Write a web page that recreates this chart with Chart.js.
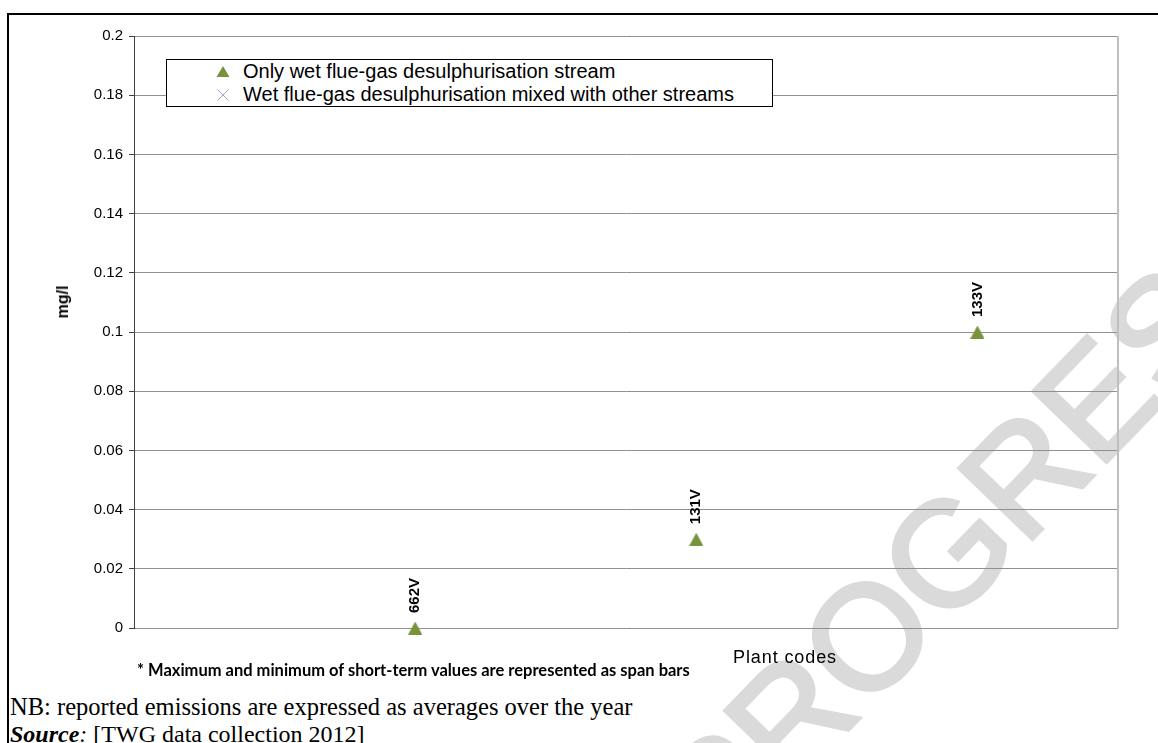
<!DOCTYPE html>
<html>
<head>
<meta charset="utf-8">
<script src="https://cdn.jsdelivr.net/npm/chart.js@4.4.1/dist/chart.umd.min.js"></script>
<style>
  html, body { margin: 0; padding: 0; background: #fff; }
  body { width: 1158px; height: 743px; position: relative; overflow: hidden; font-family: "Liberation Sans", Arial, sans-serif; }
  #frame-top { position: absolute; left: 7px; top: 13px; width: 1151px; height: 2px; background: #000; }
  #frame-left { position: absolute; left: 7px; top: 13px; width: 2px; height: 730px; background: #000; }
  #watermark { position: absolute; left: 976px; top: 524px; transform: translate(-50%, -50%) rotate(-46deg);
    white-space: nowrap; font: 148px "Liberation Sans", Arial, sans-serif; -webkit-text-stroke: 4px #dadada; line-height: 1; color: #dadada; z-index: 0; }
  #chart { position: absolute; left: 0; top: 0; z-index: 1; }
  .txt { position: absolute; z-index: 2; white-space: nowrap; color: #000; }
  #ytitle { left: 63px; top: 302px; transform: translate(-50%, -50%) rotate(-90deg); font: bold 16px "Liberation Sans", Arial, sans-serif; }
  #xtitle { left: 733px; top: 647px; font: 18px "Liberation Sans", Arial, sans-serif; letter-spacing: 0.9px; }
  #footnote { left: 137px; top: 660px; font: bold 16.5px Lato, "Open Sans", sans-serif; }
  #nb { left: 10px; top: 694px; font: 24.5px "Liberation Serif", "Times New Roman", serif; line-height: 26px; }
  #src { left: 10px; top: 721px; font: 24px "Liberation Serif", "Times New Roman", serif; line-height: 26px; }
  #legend { position: absolute; left: 166px; top: 59px; width: 605px; height: 46px; border: 1px solid #000; background: #fff; z-index: 2; }
  .lg-row { position: absolute; left: 0; height: 23px; display: flex; align-items: center; font: 20px "Liberation Sans", Arial, sans-serif; }
  .lg-row svg { margin-left: 49px; margin-right: 13px; }
</style>
</head>
<body>
<div id="frame-top"></div>
<div id="frame-left"></div>
<div id="watermark">PROGRESS</div>
<canvas id="chart" width="1158" height="690"></canvas>
<div id="legend"></div>
<div class="txt" id="ytitle">mg/l</div>
<div class="txt" id="xtitle">Plant codes</div>
<div class="txt" id="footnote">* Maximum and minimum of short-term values are represented as span bars</div>
<div class="txt" id="nb">NB: reported emissions are expressed as averages over the year</div>
<div class="txt" id="src"><b><i>Source</i></b><i>:</i> [TWG data collection 2012]</div>
<script>
// plant codes and their position along the category axis
const plantCodes = ['662V', '131V', '133V'];
const plantPos = [1, 2, 3];

// yearly averages, mg/l
const onlyWfgd = [0, 0.03, 0.1];
const mixedWfgd = []; // no plants reported in this group

const yTicks = [0, 0.02, 0.04, 0.06, 0.08, 0.1, 0.12, 0.14, 0.16, 0.18, 0.2];

const seriesNames = [
    'Only wet flue-gas desulphurisation stream',
    'Wet flue-gas desulphurisation mixed with other streams'
];

const green = '#77933c';
const lavender = '#a3a3cf';

// Excel style triangle, centred on its box rather than its centroid
const tri = document.createElement('canvas');
tri.width = 14;
tri.height = 13;
const tctx = tri.getContext('2d');
tctx.fillStyle = green;
tctx.beginPath();
tctx.moveTo(7, 0);
tctx.lineTo(14, 13);
tctx.lineTo(0, 13);
tctx.closePath();
tctx.fill();

// rotated plant code above each marker
const codeLabels = {
    id: 'codeLabels',
    afterDatasetsDraw(chart) {
        const ctx = chart.ctx;
        const meta = chart.getDatasetMeta(0);
        ctx.save();
        ctx.fillStyle = '#000';
        ctx.font = 'bold 15px "Liberation Sans", Arial, sans-serif';
        ctx.textAlign = 'left';
        ctx.textBaseline = 'middle';
        meta.data.forEach((pt, i) => {
            ctx.save();
            ctx.translate(pt.x, pt.y - 15);
            ctx.rotate(-Math.PI / 2);
            ctx.fillText(plantCodes[i], 0, 0);
            ctx.restore();
        });
        ctx.restore();
    }
};

// light grey right edge of the plot area
const plotEdge = {
    id: 'plotEdge',
    beforeDatasetsDraw(chart) {
        const { ctx, chartArea } = chart;
        ctx.save();
        ctx.strokeStyle = '#bfbfbf';
        ctx.lineWidth = 2;
        ctx.beginPath();
        ctx.moveTo(chartArea.right, chartArea.top);
        ctx.lineTo(chartArea.right, chartArea.bottom);
        ctx.stroke();
        ctx.restore();
    }
};

const ctx = document.getElementById('chart').getContext('2d');

const chart = new Chart(ctx, {
    type: 'scatter',
    data: {
        datasets: [
            {
                label: seriesNames[0],
                data: plantPos.map((x, i) => ({ x: x, y: onlyWfgd[i] })),
                pointStyle: tri,
                backgroundColor: green,
                borderColor: green,
                clip: false
            },
            {
                label: seriesNames[1],
                data: mixedWfgd,
                pointStyle: 'crossRot',
                radius: 6,
                borderColor: lavender,
                borderWidth: 1,
                clip: false
            }
        ]
    },
    options: {
        responsive: false,
        animation: false,
        layout: { padding: { left: 0, top: 36, right: 40, bottom: 62 } },
        plugins: {
            legend: { display: false },
            tooltip: { enabled: false }
        },
        scales: {
            x: {
                type: 'linear',
                display: false,
                min: 0,
                max: 3.5
            },
            y: {
                min: 0,
                max: 0.2,
                afterFit: scale => { scale.width = 134; },
                afterBuildTicks: scale => { scale.ticks = yTicks.map(v => ({ value: v })); },
                grid: { color: '#909090', lineWidth: 1, tickLength: 5, tickColor: '#404040' },
                border: { color: '#404040', width: 1 },
                ticks: {
                    color: '#000',
                    padding: 6,
                    font: { family: '"Liberation Sans", Arial, sans-serif', size: 15 },
                    callback: v => String(Number(v.toFixed(2)))
                }
            }
        }
    },
    plugins: [plotEdge, codeLabels]
});

// legend box built from the datasets
const legend = document.getElementById('legend');
chart.data.datasets.forEach((ds, i) => {
    const row = document.createElement('div');
    row.className = 'lg-row';
    row.style.top = (i * 23) + 'px';
    const icon = i === 0
        ? `<svg width="14" height="14"><polygon points="7,1 13.5,12 0.5,12" fill="${ds.backgroundColor}"/></svg>`
        : `<svg width="14" height="14"><path d="M1.5,1.5 L12.5,12.5 M12.5,1.5 L1.5,12.5" stroke="${ds.borderColor}" stroke-width="1"/></svg>`;
    row.innerHTML = icon + '<span>' + ds.label + '</span>';
    legend.appendChild(row);
});
</script>
</body>
</html>
